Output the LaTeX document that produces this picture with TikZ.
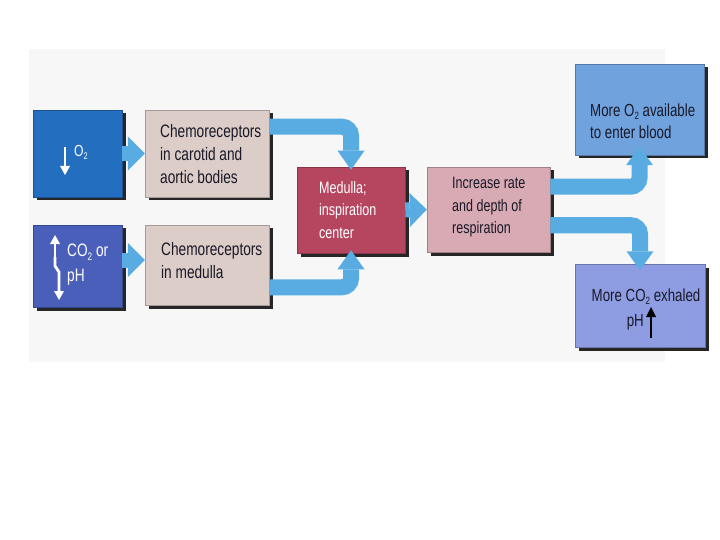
\documentclass[tikz,border=0pt]{standalone}
\usepackage{fontspec}
\setmainfont[FakeStretch=0.76]{Liberation Sans}
\usetikzlibrary{arrows.meta,shadows,calc}
\definecolor{otwoblue}{RGB}{36,110,192}
\definecolor{cotwoblue}{RGB}{74,95,186}
\definecolor{chemobeige}{RGB}{220,205,200}
\definecolor{medred}{RGB}{182,70,96}
\definecolor{incpink}{RGB}{216,170,180}
\definecolor{moreotwo}{RGB}{112,162,222}
\definecolor{morecotwo}{RGB}{142,156,226}
\definecolor{flowblue}{RGB}{88,172,226}
\definecolor{txtdark}{RGB}{25,25,40}
\newcommand\subtwo{\raisebox{-0.35ex}{\scalebox{0.6}{2}}}
\begin{document}
\begin{tikzpicture}[x=1pt,y=-1pt,
  box/.style={rectangle, inner sep=0pt, draw=#1!75!black, line width=0.5pt, fill=#1,
    general shadow={fill=black!85, shadow xshift=3.5pt, shadow yshift=-3.5pt}},
  lbl/.style={inner sep=0pt, align=left, anchor=west, text=txtdark,
    font=\fontsize{18}{23}\selectfont},
  lblsm/.style={lbl, font=\fontsize{16.5}{22.5}\selectfont},
  lblrt/.style={lbl, font=\fontsize{17.5}{22.5}\selectfont},
  flow/.style={draw=flowblue, line width=15pt,
    -{Triangle[width=34pt,length=17pt,line width=0pt,fill=flowblue]}},
  bentflow/.style={draw=flowblue, line width=16pt, rounded corners=9pt,
    -{Triangle[width=27pt,length=19pt,line width=0pt,fill=flowblue]}},
  wharrow/.style={draw=white, line width=2.8pt,
    -{Triangle[width=10pt,length=9pt,line width=0pt,fill=white]}},
  bkarrow/.style={draw=black, line width=2.6pt,
    -{Triangle[width=10pt,length=10pt,line width=0pt,fill=black]}}
]
\useasboundingbox (0,0) rectangle (720,540);
\fill[white] (0,0) rectangle (720,540);
\fill[black!3] (29,49) rectangle (665,362);

% boxes
\node[box=otwoblue, minimum width=89pt, minimum height=87pt] (o2) at (77.5,153.5) {};
\node[box=cotwoblue, minimum width=89pt, minimum height=82pt] (co2) at (77.5,266) {};
\node[box=chemobeige, minimum width=124pt, minimum height=87pt] (chemo1) at (207,153.5) {};
\node[box=chemobeige, minimum width=124pt, minimum height=80pt] (chemo2) at (207,265) {};
\node[box=medred, minimum width=108pt, minimum height=86pt] (medulla) at (351,210) {};
\node[box=incpink, minimum width=123pt, minimum height=85pt] (incr) at (488.5,209.5) {};
\node[box=moreotwo, minimum width=129pt, minimum height=91pt] (moreo2) at (639.5,109.5) {};
\node[box=morecotwo, minimum width=130pt, minimum height=83pt] (moreco2) at (640,306) {};

% flow arrows
\draw[flow] (o2.east) -- (chemo1.west);
\draw[flow] ($(co2.east)+(0,-6)$) -- ($(chemo2.west)+(0,-5)$);
\draw[bentflow] ($(chemo1.north east)+(0,17)$) -| ($(medulla.north)+(0,3)$);
\draw[bentflow] ($(chemo2.south east)+(0,-18)$) -| ($(medulla.south)+(0,-3)$);
\draw[flow] (medulla.east) -- (incr.west);
\draw[bentflow] ($(incr.north east)+(0,20)$) -| ($(moreo2.south)+(0,-9)$);
\draw[bentflow] ($(incr.south east)+(0,-27)$) -| ($(moreco2.north)+(0,6)$);

% texts
\coordinate (o2top) at (65,147);
\coordinate (o2bot) at (65,175);
\draw[wharrow] (o2top) -- (o2bot);
\node[lbl, text=white, font=\fontsize{16}{18}\selectfont] (o2t) at (74,152) {O\subtwo};

\coordinate (coA) at (55,258);
\coordinate (coB) at (55,235);
\coordinate (coC) at (59,300);
\draw[wharrow] (coA) -- (coB);
\draw[wharrow] (55,257) -- (55,266) -- (59,272) -- (coC);
\node[lbl, text=white, align=left] (co2t) at (67,265) {CO\subtwo{} or\\[2pt]pH};

\node[lbl] (chemo1t) at (160,154.5) {Chemoreceptors\\in carotid and\\aortic bodies};
\node[lbl] (chemo2t) at (161,260.5) {Chemoreceptors\\in medulla};
\node[lblsm, text=white] (medt) at (319,210) {Medulla;\\inspiration\\center};
\node[lblsm] (incrt) at (452,207.5) {Increase rate\\and depth of\\respiration};
\node[lblrt] (moreo2t) at (590,121) {More O\subtwo{} available\\to enter blood};
\node[lblrt, anchor=center] (moreco2t) at (646,297) {More CO\subtwo{} exhaled};
\node[lblrt, anchor=east] (pht) at (644,322) {pH};
\coordinate (phA) at (651,338);
\coordinate (phB) at (651,307);
\draw[bkarrow] (phA) -- (phB);
\end{tikzpicture}
\end{document}
